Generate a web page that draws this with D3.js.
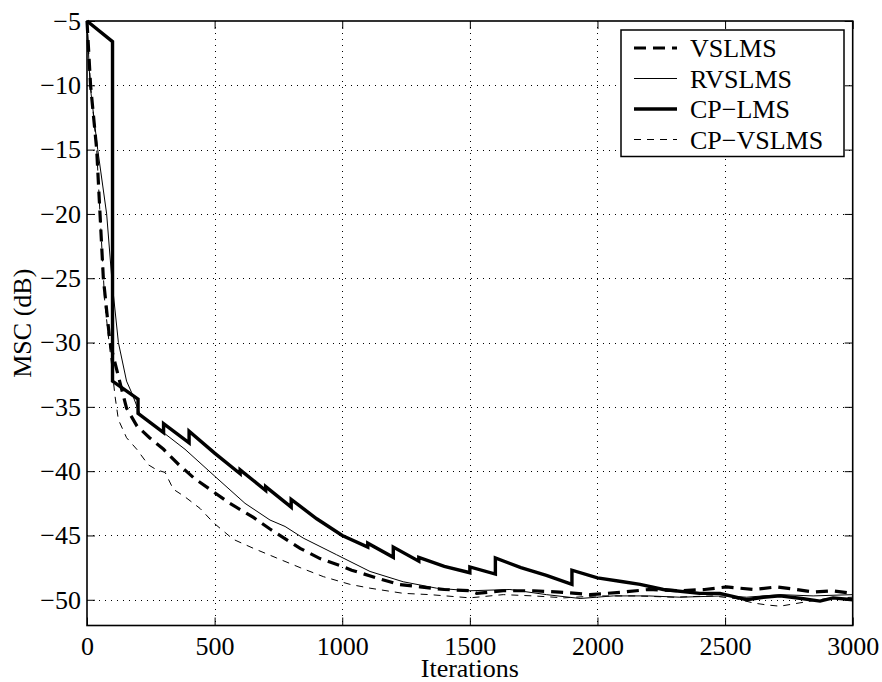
<!DOCTYPE html>
<html>
<head>
<meta charset="utf-8">
<script src="https://cdn.jsdelivr.net/npm/d3@7"></script>
<style>
body { margin: 0; background: #fff; }
svg { display: block; }
text { font-family: "Liberation Serif", "Times New Roman", serif; fill: #000; }
</style>
</head>
<body>
<svg width="882" height="682"></svg>
<script>
// valores: [iteração, MSC em dB]
let vslms = [[0,-5],[14,-10],[38,-15],[51,-20],[64,-25],[90,-30],[110,-31.6],[129,-33.1],[155,-35.1],[196,-36.5],[245,-37.4],[300,-38.3],[360,-39.5],[423,-40.6],[495,-41.6],[560,-42.5],[652,-43.6],[717,-44.5],[780,-45.3],[835,-46.0],[913,-46.8],[1000,-47.4],[1037,-47.7],[1135,-48.3],[1220,-48.8],[1305,-49.0],[1400,-49.2],[1500,-49.3],[1527,-49.5],[1631,-49.3],[1750,-49.3],[1850,-49.4],[1971,-49.6],[2101,-49.4],[2200,-49.2],[2323,-49.3],[2420,-49.2],[2506,-49.0],[2611,-49.2],[2702,-49.0],[2780,-49.2],[2846,-49.4],[2920,-49.3],[3000,-49.5]];

let rvslms = [[0,-5],[12,-10],[42,-15],[77,-20],[97,-25],[102,-26],[123,-30],[155,-33],[175,-33.9],[208,-35.6],[293,-36.9],[384,-38.3],[501,-40.4],[619,-42.5],[717,-43.8],[776,-44.3],[847,-45.2],[978,-46.5],[1109,-47.8],[1239,-48.6],[1370,-49.1],[1500,-49.3],[1657,-49.2],[1800,-49.6],[1932,-49.9],[2062,-49.7],[2200,-49.7],[2323,-49.8],[2493,-49.7],[2585,-49.8],[2715,-49.6],[2845,-49.7],[3000,-49.6]];

let cplms = [[0,-5],[100,-6.6],[100,-33],[200,-34.4],[200,-35.5],[300,-37.0],[300,-36.3],[400,-37.8],[400,-36.9],[500,-38.6],[600,-40.2],[600,-39.9],[700,-41.5],[700,-41.2],[800,-42.8],[800,-42.2],[900,-43.7],[1000,-45.0],[1100,-45.9],[1100,-45.6],[1200,-46.7],[1200,-45.9],[1300,-47.0],[1300,-46.7],[1400,-47.4],[1500,-47.9],[1500,-47.45],[1600,-48.0],[1600,-46.75],[1700,-47.5],[1800,-48.1],[1900,-48.8],[1900,-47.7],[2000,-48.3],[2100,-48.6],[2167,-48.8],[2258,-49.2],[2400,-49.5],[2480,-49.5],[2585,-50.0],[2650,-49.8],[2715,-49.7],[2800,-49.9],[2872,-50.1],[2923,-49.85],[3000,-50.0]];

let cpvslms = [[0,-5],[14,-10],[38,-15],[51,-20],[70,-27],[95,-31.5],[110,-34.2],[123,-36],[155,-37.4],[195,-38.3],[240,-39.5],[273,-39.9],[306,-40.1],[338,-41.4],[384,-42.0],[443,-42.9],[495,-44.0],[573,-45.3],[652,-46.0],[743,-46.75],[835,-47.5],[926,-48.2],[1030,-48.8],[1109,-49.1],[1239,-49.5],[1344,-49.6],[1500,-49.85],[1631,-49.6],[1750,-49.7],[1870,-49.85],[2000,-49.7],[2150,-49.7],[2300,-49.8],[2450,-49.7],[2540,-49.9],[2611,-50.25],[2663,-50.4],[2715,-50.5],[2820,-50.15],[2900,-49.9],[3000,-49.8]];

let nomes = ["VSLMS", "RVSLMS", "CP\u2212LMS", "CP\u2212VSLMS"];
let x_ticks = [0, 500, 1000, 1500, 2000, 2500, 3000];
let y_ticks = [-5, -10, -15, -20, -25, -30, -35, -40, -45, -50];

let fonte = '"Liberation Serif", "Times New Roman", serif';

let $svg = d3.select("svg");

let esq = 87, dir = 852.7, topo = 21, base = 625.5;

let x = d3.scaleLinear().domain([0, 3000]).range([esq, dir]);
let y = d3.scaleLinear().domain([-52, -5]).range([base, topo]);

// grade pontilhada
$svg.append("g")
  .selectAll("line")
  .data(x_ticks.slice(1, -1))
  .enter().append("line")
  .attr("x1", d => Math.round(x(d)) + 0.5)
  .attr("x2", d => Math.round(x(d)) + 0.5)
  .attr("y1", topo).attr("y2", base)
  .attr("stroke", "#000").attr("stroke-width", 1)
  .attr("stroke-dasharray", "1,5");

$svg.append("g")
  .selectAll("line")
  .data(y_ticks.slice(1))
  .enter().append("line")
  .attr("y1", d => Math.round(y(d)) + 0.5)
  .attr("y2", d => Math.round(y(d)) + 0.5)
  .attr("x1", esq).attr("x2", dir)
  .attr("stroke", "#000").attr("stroke-width", 1)
  .attr("stroke-dasharray", "1,5");

// eixos com marcas para dentro
$svg.append("g")
  .attr("transform", `translate(0,${base})`)
  .call(d3.axisBottom(x).tickValues(x_ticks).tickSize(-8).tickSizeOuter(0).tickPadding(11).tickFormat(d3.format("d")));

$svg.append("g")
  .attr("transform", `translate(${esq},0)`)
  .call(d3.axisLeft(y).tickValues(y_ticks).tickSize(-8).tickSizeOuter(0).tickPadding(6).tickFormat(d3.format("d")));

$svg.append("g")
  .attr("transform", `translate(0,${topo})`)
  .call(d3.axisTop(x).tickValues(x_ticks).tickSize(-8).tickSizeOuter(0).tickFormat(""));

$svg.append("g")
  .attr("transform", `translate(${dir},0)`)
  .call(d3.axisRight(y).tickValues(y_ticks).tickSize(-8).tickSizeOuter(0).tickFormat(""));

$svg.selectAll(".domain").remove();
$svg.selectAll("g").attr("font-family", fonte).attr("font-size", 26);
$svg.selectAll(".tick line").attr("stroke", "#000").attr("stroke-width", 1);
$svg.selectAll(".tick text")
  .attr("font-family", fonte)
  .style("font-family", fonte)
  .style("font-size", "26px")
  .attr("fill", "#000");

// curvas
let linha = d3.line().x(d => x(d[0])).y(d => y(d[1]));

let estilos = [
  { dados: vslms,   w: 3.2, dash: "12,7" },
  { dados: rvslms,  w: 1,   dash: null },
  { dados: cplms,   w: 3.4, dash: null },
  { dados: cpvslms, w: 1,   dash: "7,6" }
];

$svg.append("g")
  .selectAll("path")
  .data(estilos)
  .enter().append("path")
  .attr("d", d => linha(d.dados))
  .attr("fill", "none")
  .attr("stroke", "#000")
  .attr("stroke-width", d => d.w)
  .attr("stroke-dasharray", d => d.dash)
  .attr("stroke-linejoin", "miter");

// moldura
$svg.append("rect")
  .attr("x", esq).attr("y", topo)
  .attr("width", dir - esq).attr("height", base - topo)
  .attr("fill", "none").attr("stroke", "#000").attr("stroke-width", 1.6);

// legenda
let leg = $svg.append("g");
leg.append("rect")
  .attr("x", 621).attr("y", 30)
  .attr("width", 223).attr("height", 126.5)
  .attr("fill", "#fff").attr("stroke", "#000").attr("stroke-width", 1.5);

let itens = leg.selectAll("g.item")
  .data(estilos)
  .enter().append("g")
  .attr("transform", (d, i) => `translate(0,${57 + i * 30.5})`);

itens.append("line")
  .attr("x1", 634).attr("x2", 677)
  .attr("y1", -9).attr("y2", -9)
  .attr("stroke", "#000")
  .attr("stroke-width", d => d.w)
  .attr("stroke-dasharray", d => d.dash);

itens.append("text")
  .attr("x", 690).attr("y", 0)
  .style("font-family", fonte)
  .style("font-size", "26px")
  .text((d, i) => nomes[i]);

// rótulos dos eixos
$svg.append("text")
  .attr("x", (esq + dir) / 2).attr("y", 677)
  .attr("text-anchor", "middle")
  .style("font-family", fonte)
  .style("font-size", "26px")
  .text("Iterations");

$svg.append("text")
  .attr("transform", `translate(31,${(topo + base) / 2}) rotate(-90)`)
  .attr("text-anchor", "middle")
  .style("font-family", fonte)
  .style("font-size", "26px")
  .text("MSC (dB)");
</script>
</body>
</html>
